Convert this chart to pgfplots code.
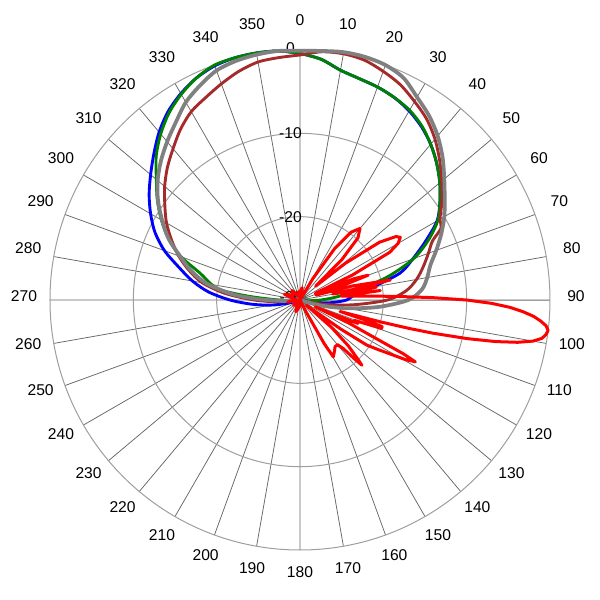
\documentclass[border=0pt]{standalone}
\usepackage{fontspec}
\setmainfont{Liberation Sans}
\usepackage{pgfplots}
\usepackage{pgfplotstable}
\pgfplotsset{compat=1.18}
\usepgfplotslibrary{polar}

\definecolor{cblue}{HTML}{0000FF}
\definecolor{cgreen}{HTML}{008000}
\definecolor{cbrown}{HTML}{A52A2A}
\definecolor{cgrey}{HTML}{808080}
\definecolor{cred}{HTML}{FF0000}

% angle a in degrees (clockwise from north), level d in dB
\pgfplotstableread{
a d
0 -0.4
5 -1.0
10 -2.0
15 -2.5
20 -2.8
25 -3.2
30 -3.8
35 -4.6
40 -5.6
45 -6.8
50 -8.1
55 -9.5
60 -11.0
65 -13.4
70 -15.6
75 -17.6
80 -21.2
85 -23.5
90 -24.4
95 -26.3
100 -28.5
105 -30
150 -30
200 -30
250 -30
255 -28.5
260 -26.5
265 -24.2
270 -21.6
275 -19.0
280 -16.9
285 -15.0
290 -12.7
295 -10.8
300 -9.3
305 -7.9
310 -6.6
315 -5.2
320 -3.7
325 -2.4
330 -1.4
335 -0.6
340 -0.1
345 0.1
350 0.1
355 0
360 -0.4
}\tblue

\pgfplotstableread{
a d
0 -0.4
5 -1.0
10 -2.0
15 -2.5
20 -2.8
25 -3.2
30 -3.7
35 -4.5
40 -5.6
45 -6.8
50 -8.1
55 -9.5
60 -10.9
65 -13.0
70 -15.5
75 -19.0
80 -22.8
85 -25.5
90 -27.5
95 -29
100 -30
150 -30
200 -30
260 -30
265 -29.5
270 -27.5
274 -24.0
277 -20.5
280 -19.2
285 -17.6
290 -14.8
295 -12.6
300 -10.8
305 -9.1
310 -7.5
315 -5.6
320 -4.0
325 -2.6
330 -1.5
335 -0.6
340 0
345 0.1
350 0.1
355 0
360 -0.4
}\tgreen

\pgfplotstableread{
a d
0 -0.6
5 -0.1
10 0
15 -0.2
20 -0.8
25 -1.5
30 -2.5
35 -3.5
40 -4.8
45 -6.3
50 -7.8
55 -9.2
60 -10.6
63 -11.0
66 -12.6
70 -13.6
75 -14.7
80 -15.8
85 -17.2
90 -19.5
95 -23.5
100 -27
105 -30
150 -30
200 -30
260 -30
265 -27.5
270 -24.5
275 -21
280 -18.1
285 -16.2
290 -14.5
295 -13.0
300 -11.5
305 -10.2
310 -8.8
315 -7.5
320 -6.3
325 -5.0
330 -3.9
335 -3.2
340 -2.4
345 -1.6
350 -1.0
355 -0.8
360 -0.6
}\tbrown

\pgfplotstableread{
a d
0 -0.1
5 0
10 0.2
15 0.2
20 0
25 -0.6
30 -1.9
35 -3.0
40 -4.3
45 -5.8
50 -7.4
55 -8.8
60 -10.0
65 -11.3
70 -12.6
75 -13.8
80 -14.5
85 -15.3
90 -17.0
95 -20.5
100 -24.3
105 -27.5
110 -30
150 -30
200 -30
260 -30
265 -28.5
270 -26
272 -24.4
275 -21.8
280 -18.6
285 -16.5
290 -14.7
295 -12.6
300 -10.9
305 -9.2
310 -7.7
315 -6.4
320 -5.2
325 -4.0
330 -2.6
335 -1.6
340 -0.7
345 -0.3
350 -0.1
355 0
360 -0.1
}\tgrey

\pgfplotstableread{
a d
0 -29
10 -28.5
20 -29.5
28 -30
31 -27
34 -22.5
37 -19.8
40 -18.8
43 -19.8
46 -23
48.5 -27.5
51 -23
54 -18.2
56.5 -16.2
58 -15.8
60 -16.4
62 -17.8
64.5 -23
66.5 -28
68.5 -23
70 -21.3
71.5 -25
73 -28
75 -23.5
77.5 -18.9
78.8 -23.5
79.6 -26
80.4 -20.7
81.5 -25
82.5 -24
83.3 -20.3
84.5 -25
86 -23.5
87 -21
88 -18
89 -14
90 -10
91 -7.0
92 -4.8
93 -3.2
94 -1.9
95 -1.0
96 -0.3
97 0
98 -0.2
99 -0.6
100 -1.6
101 -3.4
102 -6.0
103 -9.4
104 -13.5
104.6 -16.5
105.2 -20
106 -25
107 -22
108 -19.6
108.6 -21.5
109.2 -19.6
110.5 -23
112 -22.5
113 -26
114 -28
115.3 -23.5
116.5 -21
117.5 -16
118.2 -14.3
119.5 -15.5
121 -17.5
122.5 -19
124 -20.3
125.5 -24
127 -28
129 -29
131 -25
133.5 -22
135.5 -20.2
136.5 -19.2
137.3 -20.5
138.3 -22.2
140 -23
143 -23
146 -22.6
149.6 -22.1
151 -24
153 -28.5
156 -30
170 -29.5
190 -29
200 -28.5
215 -29.5
230 -29
245 -30
260 -28.5
275 -29.5
290 -28
305 -29
320 -28.5
335 -29.5
350 -29
360 -29
}\tred

\begin{document}
\begin{tikzpicture}[font=\fontsize{12.5}{15}\selectfont]
\useasboundingbox (-240pt,-240pt) rectangle (240pt,240pt);
\begin{polaraxis}[
  at={(0,0)}, anchor=center,
  scale only axis, width=400pt, height=400pt,
  xmin=0, xmax=360, ymin=0, ymax=30,
  xtick={0,10,...,350}, ytick={10,20},
  xticklabels={}, yticklabels={},
  major tick length=0pt,
  xmajorgrids, ymajorgrids,
  x grid style={black!60, line width=0.6pt},
  y grid style={black!38, line width=0.8pt},
  axis line style={black!38, line width=0.8pt},
  clip=false,
  every axis plot/.append style={line join=round, no marks},
  table/x expr={mod(450-\thisrow{a},360)},
  table/y expr={\thisrow{d}+30},
]
\node at (axis cs:90,30) [xshift=-7.6pt, yshift=1.4pt] {0};
\node at (axis cs:90,20) [xshift=-7.6pt] {-10};
\node at (axis cs:90,10) [xshift=-7.6pt] {-20};
\node at (axis cs:90,0) [xshift=-7.2pt, yshift=2.4pt] {-30};

\addplot[cblue, line width=2.3pt, smooth] table {\tblue};
\addplot[cgreen, line width=2.3pt, smooth] table {\tgreen};
\addplot[cbrown, line width=2.3pt, smooth] table {\tbrown};
\addplot[cgrey, line width=3pt, smooth] table {\tgrey};
\addplot[cred, line width=2.4pt] table {\tred};
\end{polaraxis}
\foreach \a in {0,10,...,350}
  \node at ({90-\a}:220.8pt) [yshift=3.2pt] {\a};
\end{tikzpicture}
\end{document}
